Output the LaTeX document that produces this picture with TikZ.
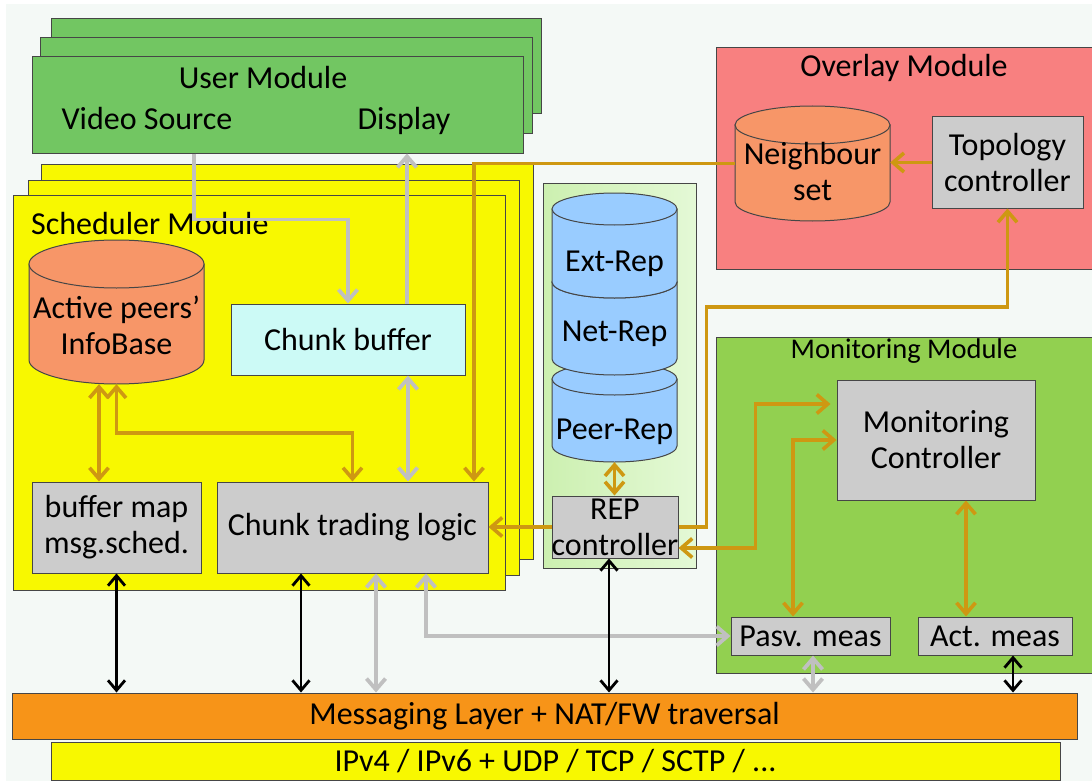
\documentclass[tikz,border=0pt]{standalone}
\usepackage{fontspec}
\setmainfont{Carlito}
\usetikzlibrary{arrows.meta}

\definecolor{pagebg}{RGB}{244,249,246}
\definecolor{edge}{RGB}{70,70,70}
\definecolor{usergreen}{RGB}{114,198,98}
\definecolor{schedyellow}{RGB}{248,248,0}
\definecolor{dbase}{RGB}{247,150,104}
\definecolor{bufcyan}{RGB}{204,250,246}
\definecolor{boxgray}{RGB}{204,204,204}
\definecolor{flowor}{RGB}{206,152,18}
\definecolor{flowgray}{RGB}{192,192,192}
\definecolor{repleft}{RGB}{204,240,176}
\definecolor{repright}{RGB}{228,249,214}
\definecolor{repblue}{RGB}{153,204,255}
\definecolor{overlayred}{RGB}{248,128,128}
\definecolor{mongreen}{RGB}{146,208,80}
\definecolor{msgorange}{RGB}{247,148,24}

% cylinder: x-left, x-right, top-centre y, bottom-centre y, y radius, fill
\newcommand\drawcyl[6]{%
  \pgfmathsetmacro\cylcx{(#1+#2)/2}%
  \pgfmathsetmacro\cylrx{(#2-#1)/2}%
  \pgfmathsetmacro\cylkx{0.5523*\cylrx}%
  \pgfmathsetmacro\cylky{0.5523*#5}%
  \filldraw[fill=#6, draw=edge, line width=1pt]
    (#1,#3) -- (#1,#4) .. controls (#1,#4+\cylky) and (\cylcx-\cylkx,#4+#5) .. (\cylcx,#4+#5)
    .. controls (\cylcx+\cylkx,#4+#5) and (#2,#4+\cylky) .. (#2,#4) -- (#2,#3) -- cycle;
  \filldraw[fill=#6, draw=edge, line width=1pt] (\cylcx,#3) ellipse[x radius=\cylrx, y radius=#5];
}

\begin{document}
\begin{tikzpicture}[x=1pt,y=-1pt,
  every node/.style={font=\fontsize{32}{36}\selectfont, inner sep=0pt},
  blk/.style={draw=edge, line width=1pt, align=center, fill=boxgray},
  panel/.style={draw=edge, line width=1pt},
  >={Straight Barb[length=11pt,width=19pt]},
  orflow/.style={draw=flowor, line width=3.6pt},
  gyflow/.style={draw=flowgray, line width=3.8pt},
  bkflow/.style={draw=black, line width=2.8pt, >={Straight Barb[length=10pt,width=17pt]}},
]
\useasboundingbox (0,0) rectangle (1092,781);
\clip (0,0) rectangle (1092,781);
\fill[pagebg] (6,4) rectangle (1092,781);

% ---- user module (stack of three)
\filldraw[panel, fill=usergreen] (51,19) rectangle (541,114);
\filldraw[panel, fill=usergreen] (40,38) rectangle (532,134);
\node[panel, fill=usergreen, minimum width=491pt, minimum height=96pt] (user) at (277.5,105) {};
\node[anchor=base] (usertitle) at (263,89) {User Module};
\node[anchor=base] (vsrc) at (147,130) {Video Source};
\node[anchor=base] (disp) at (404,130) {Display};

% ---- scheduler module (stack of three)
\filldraw[panel, fill=schedyellow] (41,164) rectangle (533,559);
\filldraw[panel, fill=schedyellow] (28,180) rectangle (519,575);
\node[panel, fill=schedyellow, minimum width=492pt, minimum height=395pt] (sched) at (259,392.5) {};
\node[anchor=base west] (schedtitle) at (31,234) {Scheduler Module};

\drawcyl{29}{204}{264}{360}{24}{dbase}
\node[minimum width=175pt, minimum height=144pt] (apib) at (116.5,312) {};
\node[align=center] (apibtext) at (116.5,325) {Active peers’\\InfoBase};

\node[blk, fill=bufcyan, minimum width=234pt, minimum height=71pt] (cbuf) at (348,339.5) {Chunk buffer};
\node[blk, minimum width=169pt, minimum height=91pt] (bmap) at (116.5,527.5) {buffer map\\msg.sched.};
\node[blk, minimum width=271pt, minimum height=91pt] (ctl) at (352.5,527.5) {Chunk trading logic};

% ---- reputation panel
\shade[left color=repleft, right color=repright] (543,183) rectangle (696,568);
\draw[panel] (543,183) rectangle (696,568);
\drawcyl{552}{677}{379}{446}{16}{repblue}
\drawcyl{552}{677}{282}{359}{16}{repblue}
\drawcyl{552}{677}{209}{282}{16}{repblue}
\node[minimum width=125pt, minimum height=269pt] (reps) at (614.5,327.5) {};
\node[anchor=base] (extrep) at (614.5,271) {Ext-Rep};
\node[anchor=base] (netrep) at (614.5,341) {Net-Rep};
\node[anchor=base] (peerrep) at (614.5,439) {Peer-Rep};
\node[blk, minimum width=126pt, minimum height=62pt] (repc) at (615,527) {};
\node[align=center] (repctext) at (615,527) {REP\\controller};

% ---- overlay module
\filldraw[panel, fill=overlayred] (716,48) rectangle (1100,269);
\node[anchor=base] (ovtitle) at (904,77) {Overlay Module};
\drawcyl{735}{890}{125}{202}{19}{dbase}
\node[minimum width=155pt, minimum height=115pt] (nb) at (812.5,163.5) {};
\node[align=center] (nbtext) at (812.5,172) {Neighbour\\set};
\node[blk, minimum width=151pt, minimum height=91pt] (topo) at (1007.5,162.5) {Topology\\controller};

% ---- monitoring module
\filldraw[panel, fill=mongreen] (716,337) rectangle (1100,673);
\node[anchor=base, font=\fontsize{28.5}{32}\selectfont] (montitle) at (904,358) {Monitoring Module};
\node[blk, minimum width=198pt, minimum height=120pt] (mc) at (936,440) {Monitoring\\Controller};
\node[blk, minimum width=159pt, minimum height=38pt] (pasv) at (810.5,636) {Pasv. meas};
\node[blk, minimum width=154pt, minimum height=38pt] (act) at (995,636) {Act. meas};

% ---- lower layers
\node[panel, fill=schedyellow, minimum width=1009pt, minimum height=38pt] (ip) at (555.5,761) {IPv4 / IPv6 + UDP / TCP / SCTP / ...};
\node[panel, fill=msgorange, minimum width=1065pt, minimum height=46pt] (msg) at (544.5,716) {Messaging Layer + NAT/FW traversal};

% ---- data paths (grey)
\draw[gyflow, ->] ([xshift=-83.5pt]user.south) -- ++(0,66) -| (cbuf.north);
\draw[gyflow, ->] ([xshift=59pt]cbuf.north) -- ([xshift=59pt]cbuf.north |- user.south);
\draw[gyflow, <->] ([xshift=60pt]cbuf.south) -- ([xshift=60pt]cbuf.south |- ctl.north);
\draw[gyflow, <->] ([xshift=23.5pt]ctl.south) -- ([xshift=23.5pt]ctl.south |- msg.north);
\draw[gyflow, <->] ([xshift=73.5pt]ctl.south) |- (pasv.west);
\draw[gyflow, <->] ([xshift=2.5pt]pasv.south) -- ([xshift=2.5pt]pasv.south |- msg.north);

% ---- control paths (orange)
\draw[orflow, <->] ([xshift=-17.5pt]apib.south) -- ([xshift=-17.5pt]apib.south |- bmap.north);
\draw[orflow, <->] (apib.south) -- ++(0,49) -| (ctl.north);
\draw[orflow, ->] (nb.west) -| ([xshift=121.5pt]ctl.north);
\draw[orflow, ->] (topo.west) -- (topo.west -| nb.east);
\draw[orflow, ->] (repc.west) -- (repc.west -| ctl.east);
\draw[orflow, ->] (repc.east) -- ++(28,0) -- ++(0,-220) -| (topo.south);
\draw[orflow, <->] ([yshift=-21pt]repc.east) -- ++(77,0) |- ([yshift=36pt, xshift=-6pt]mc.west);
\draw[orflow, <->] ([xshift=-17.5pt]pasv.north) |- (mc.west);
\draw[orflow, <->] ([xshift=30pt]mc.south) -- ([xshift=30pt]mc.south |- act.north);
\draw[orflow, <->] (reps.south) -- (reps.south |- repc.north);

% ---- messaging paths (black)
\draw[bkflow, <->] (bmap.south) -- (bmap.south |- msg.north);
\draw[bkflow, <->] ([xshift=-51.5pt]ctl.south) -- ([xshift=-51.5pt]ctl.south |- msg.north);
\draw[bkflow, <->] ([xshift=-6pt]repc.south) -- ([xshift=-6pt]repc.south |- msg.north);
\draw[bkflow, <->] ([xshift=18pt]act.south) -- ([xshift=18pt]act.south |- msg.north);
\end{tikzpicture}
\end{document}
